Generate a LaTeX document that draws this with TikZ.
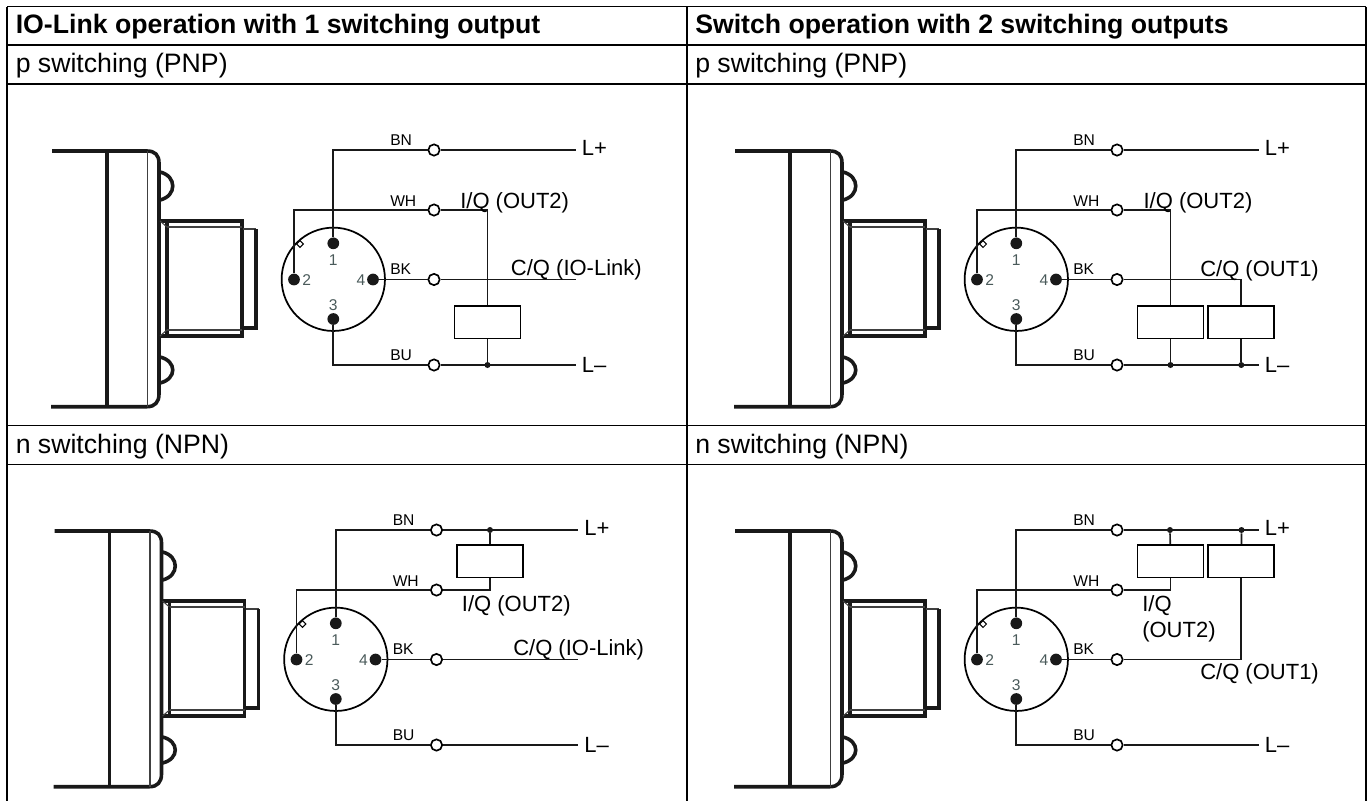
\documentclass[tikz,border=0pt]{standalone}
\usepackage{fontspec}
\setmainfont{Liberation Sans}
\usepackage{xcolor}
\usetikzlibrary{positioning,calc}

\definecolor{pinnum}{HTML}{4A5A5A}

\begin{document}
\begin{tikzpicture}[x=0.75pt, y=-0.75pt,
    grid/.style={line width=1pt, black},
    body/.style={line width=2.7pt, black!90},
    bodythin/.style={line width=0.8pt, black!75},
    wire/.style={line width=1.25pt, black!90},
    pin/.style={circle, fill=black!90, inner sep=0pt, minimum size=8.8pt},
    term/.style={circle, draw, line width=1.25pt, fill=white, inner sep=0pt, minimum size=8.5pt},
    junc/.style={circle, fill=black!90, inner sep=0pt, minimum size=4.5pt},
    relay/.style={rectangle, draw, line width=1.25pt, fill=white, inner sep=0pt, minimum width=49.5pt, minimum height=24.5pt},
    key/.style={rectangle, draw, line width=0.7pt, fill=white, inner sep=0pt, minimum size=3.6pt, rotate=45},
    colhead/.style={anchor=base west, inner sep=0pt, font=\fontsize{20}{24}\selectfont\bfseries},
    rowhead/.style={anchor=base west, inner sep=0pt, font=\fontsize{20}{24}\selectfont},
    sig/.style={anchor=base west, inner sep=0pt, font=\fontsize{16.5}{20}\selectfont},
    col/.style={anchor=base west, inner sep=0pt, font=\fontsize{11.7}{14}\selectfont},
    num/.style={anchor=base, inner sep=0pt, text=pinnum, font=\fontsize{11.7}{14}\selectfont}]

    \useasboundingbox (0,0) rectangle (1372,801);

    % Table grid
    \draw[grid] (7,6.5) -- (1366,6.5);
    \draw[grid] (7,45) -- (1366,45);
    \draw[grid] (7,84) -- (1366,84);
    \draw[grid] (7,425.5) -- (1366,425.5);
    \draw[grid] (7,464.5) -- (1366,464.5);
    \draw[grid] (7,6.5) -- (7,801);
    \draw[grid] (687,6.5) -- (687,801);
    \draw[grid] (1366,6.5) -- (1366,801);

    % Table texts
    \node[colhead] (headA) at (15.5,33) {IO-Link operation with 1 switching output};
    \node[colhead] (headB) at (695,33) {Switch operation with 2 switching outputs};
    \node[rowhead] (rowA) at (15.5,72.7) {p switching (PNP)};
    \node[rowhead] (rowB) at (695,72.7) {p switching (PNP)};
    \node[rowhead] (rowC) at (15.5,453.2) {n switching (NPN)};
    \node[rowhead] (rowD) at (695,453.2) {n switching (NPN)};

    % Sensor, plug and common wiring of each panel
    \foreach \p/\dx/\dy in {a/0/0, b/683/0, c/2.5/380, d/683/380} {
      \begin{scope}[shift={(\dx,\dy)}]
        % Housing
        \draw[body] (52,151) -- (147,151) .. controls (155,151) and (159,155) .. (159,163)
            -- (159,394) .. controls (159,402) and (155,406.7) .. (147,406.7) -- (51,406.7);
        \draw[body] (107,151) -- (107,406.7);
        \draw[bodythin] (147.5,151) -- (147.5,406.7);
        \draw[body] (160,172) .. controls (177,176) and (177,196) .. (160,200);
        \draw[body] (160,357) .. controls (177,361) and (177,379) .. (160,383);
        % Threaded neck
        \draw[body] (160,221) -- (242,221) -- (242,336) -- (160,336);
        \draw[body] (167,221) -- (167,336);
        \draw[bodythin] (167,227) -- (242,227);
        \draw[bodythin] (167,330) -- (242,330);
        \draw[bodythin] (160,221) -- (167,227);
        \draw[bodythin] (160,336) -- (167,330);
        \draw[bodythin, line width=1.2pt] (243,229) -- (256,229);
        \draw[body] (256,229) -- (256,328) -- (243,328);

        % Plug face
        \node[circle, draw, line width=1.3pt, inner sep=0pt, minimum size=77.5pt] (plug\p) at (333.3,279.3) {};
        \node[key] (key\p) at (300,244) {};
        \node[pin] (pinA\p) at (333.3,243.3) {};
        \node[pin] (pinB\p) at (294,279.5) {};
        \node[pin] (pinC\p) at (333.3,319) {};
        \node[pin] (pinD\p) at (373,279.5) {};
        \node[num] (numA\p) at (333.3,265) {1};
        \node[num] (numB\p) at (306.7,285.7) {2};
        \node[num] (numC\p) at (333.3,310) {3};
        \node[num] (numD\p) at (361,285.7) {4};

        % Terminals
        \node[term] (bn\p) at (434,150) {};
        \node[term] (wh\p) at (434,210) {};
        \node[term] (bk\p) at (434,279.5) {};
        \node[term] (bu\p) at (434,365) {};
        \node[col] (labBN\p) at (390,145) {BN};
        \node[col] (labWH\p) at (390,206) {WH};
        \node[col] (labBK\p) at (390,274) {BK};
        \node[col] (labBU\p) at (390,360.5) {BU};

        % Supply ends
        \coordinate (endP\p) at (575.7,150);
        \coordinate (endM\p) at (575.7,365);
        \node[sig] (labP\p) at (581.7,155) {L+};
        \node[sig] (labM\p) at (581.7,372) {L--};

        % Wires
        \draw[wire] (pinA\p) |- (bn\p);
        \draw[wire] (pinB\p) |- (wh\p);
        \draw[wire] (pinD\p) -- (bk\p);
        \draw[wire] (pinC\p) |- (bu\p);
        \draw[wire] (bn\p) -- (endP\p);
        \draw[wire] (bu\p) -- (endM\p);
      \end{scope}
    }

    % Panel a: p switching, 1 output
    \node[relay] (loadA) at (487.5,322.3) {};
    \node[junc] (jA) at (487.5,365) {};
    \coordinate (endCa) at (575.7,279.5);
    \draw[wire] (bka) -- (endCa);
    \draw[wire] (wha) -| (loadA.north);
    \draw[wire] (loadA) -- (jA);
    \node[sig] (sigIa) at (460,208) {I/Q (OUT2)};
    \node[sig] (sigCa) at (510.7,275) {C/Q (IO-Link)};

    % Panel b: p switching, 2 outputs
    \node[relay] (loadB) at (1170.5,322.3) {};
    \node[relay] (loadC) at (1241.3,322.3) {};
    \node[junc] (jB) at (1170.5,365) {};
    \node[junc] (jC) at (1241.3,365) {};
    \draw[wire] (whb) -| (loadB.north);
    \draw[wire] (bkb) -| (loadC.north);
    \draw[wire] (loadB) -- (jB);
    \draw[wire] (loadC) -- (jC);
    \node[sig] (sigIb) at (1143.3,208) {I/Q (OUT2)};
    \node[sig] (sigCb) at (1200,276) {C/Q (OUT1)};

    % Panel c: n switching, 1 output
    \node[relay] (loadD) at (490,561) {};
    \node[junc] (jD) at (490,530) {};
    \coordinate (endCc) at (578.2,659.5);
    \draw[wire] (bkc) -- (endCc);
    \draw[wire] (jD) -- (loadD);
    \draw[wire] (whc) -| (loadD.south);
    \node[sig] (sigIc) at (461.7,611) {I/Q (OUT2)};
    \node[sig] (sigCc) at (513,655) {C/Q (IO-Link)};

    % Panel d: n switching, 2 outputs
    \node[relay] (loadE) at (1170.5,561) {};
    \node[relay] (loadF) at (1241.3,561) {};
    \node[junc] (jE) at (1170,530) {};
    \node[junc] (jF) at (1241.5,530) {};
    \draw[wire] (jE) -- (loadE);
    \draw[wire] (jF) -- (loadF);
    \draw[wire] (whd) -| (loadE.south);
    \draw[wire] (bkd) -| (loadF.south);
    \node[sig] (sigId) at (1142,611) {I/Q};
    \node[sig] (sigIdb) at (1142,637) {(OUT2)};
    \node[sig] (sigCd) at (1200,679) {C/Q (OUT1)};

\end{tikzpicture}
\end{document}
